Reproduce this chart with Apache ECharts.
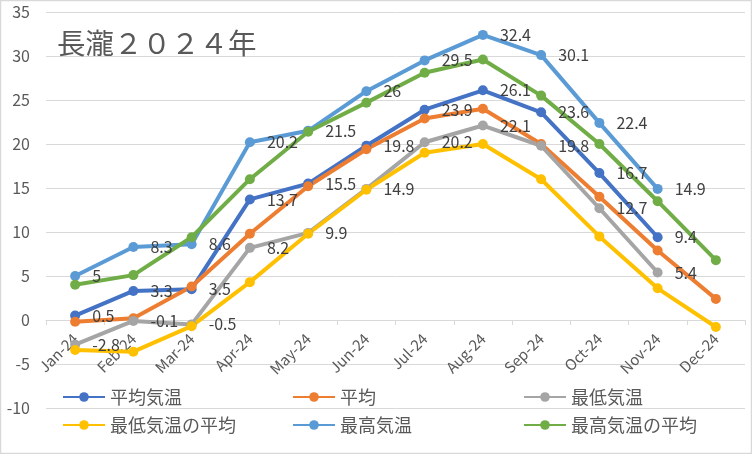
<!DOCTYPE html>
<html>
<head>
<meta charset="utf-8">
<script src="https://cdn.jsdelivr.net/npm/echarts@6/dist/echarts.min.js"></script>
<style>
html,body{margin:0;padding:0;background:#fff;}
#c{width:752px;height:454px;}
</style>
</head>
<body>
<div id="c"></div>
<script>
const categories = ['Jan-24','Feb-24','Mar-24','Apr-24','May-24','Jun-24','Jul-24','Aug-24','Sep-24','Oct-24','Nov-24','Dec-24'];
const seriesNames = ['平均気温','平均','最低気温','最低気温の平均','最高気温','最高気温の平均'];
const avgTemp   = [0.5, 3.3, 3.5, 13.7, 15.5, 19.8, 23.9, 26.1, 23.6, 16.7, 9.4, null];
const avgNormal = [-0.2, 0.2, 3.8, 9.8, 15.2, 19.4, 22.9, 24.0, 20.0, 14.0, 7.9, 2.4];
const minTemp   = [-2.8, -0.1, -0.5, 8.2, 9.9, 14.9, 20.2, 22.1, 19.8, 12.7, 5.4, null];
const minNormal = [-3.4, -3.6, -0.7, 4.3, 9.8, 14.8, 19.0, 20.0, 16.0, 9.5, 3.6, -0.8];
const maxTemp   = [5, 8.3, 8.6, 20.2, 21.5, 26, 29.5, 32.4, 30.1, 22.4, 14.9, null];
const maxNormal = [4.0, 5.1, 9.4, 16.0, 21.4, 24.7, 28.1, 29.6, 25.5, 20.0, 13.5, 6.8];
const titleText = '長瀧２０２４年';

const FONT = '"Noto Sans CJK JP", "Noto Sans", sans-serif';
const colors = ['#4472C4','#ED7D31','#A5A5A5','#FFC000','#5B9BD5','#70AD47'];
const dataList = [avgTemp, avgNormal, minTemp, minNormal, maxTemp, maxNormal];
const labeled = [true, false, true, false, true, false];

const legendPos = [[62,388],[292,388],[523,388],[62,416],[292,416],[523,416]];

const chart = echarts.init(document.getElementById('c'));
chart.setOption({
  animation: false,
  color: colors,
  textStyle: {fontFamily: FONT},
  title: {
    text: titleText, left: 57, top: 29, padding: 0,
    textStyle: {fontSize: 28.5, fontWeight: 'normal', color: '#595959', fontFamily: FONT}
  },
  graphic: [{
    type: 'rect', silent: true, z: -10,
    shape: {x: 0.5, y: 0.5, width: 751, height: 453},
    style: {fill: 'none', stroke: '#d9d9d9', lineWidth: 1.5}
  }],
  legend: seriesNames.map((n, i) => ({
    data: [n], left: legendPos[i][0], top: legendPos[i][1], padding: 0,
    itemWidth: 42, itemHeight: 12,
    textStyle: {fontSize: 18, color: '#595959', fontFamily: FONT}
  })),
  grid: {left: 46, right: 7, top: 12, bottom: 46, containLabel: false},
  xAxis: {
    type: 'category', data: categories, boundaryGap: true,
    position: 'bottom', offset: -88,
    axisLine: {onZero: false, lineStyle: {color: '#d9d9d9', width: 1}},
    axisTick: {show: true, length: 5, lineStyle: {color: '#d9d9d9'}},
    axisLabel: {rotate: 45, interval: 0, margin: 16, fontSize: 15, color: '#595959', fontFamily: FONT},
    splitLine: {show: false}
  },
  yAxis: {
    type: 'value', min: -10, max: 35, interval: 5,
    axisLine: {show: false}, axisTick: {show: false},
    axisLabel: {fontSize: 16, color: '#595959', margin: 16, fontFamily: FONT},
    splitLine: {lineStyle: {color: '#d9d9d9', width: 1}}
  },
  series: seriesNames.map((n, i) => ({
    name: n, type: 'line', data: dataList[i],
    symbol: 'circle', symbolSize: 10,
    lineStyle: {width: 4, color: colors[i]},
    itemStyle: {color: colors[i]},
    label: {
      show: labeled[i], position: 'right', distance: 12,
      fontSize: 16, color: '#404040', fontFamily: FONT
    }
  }))
});
</script>
</body>
</html>
